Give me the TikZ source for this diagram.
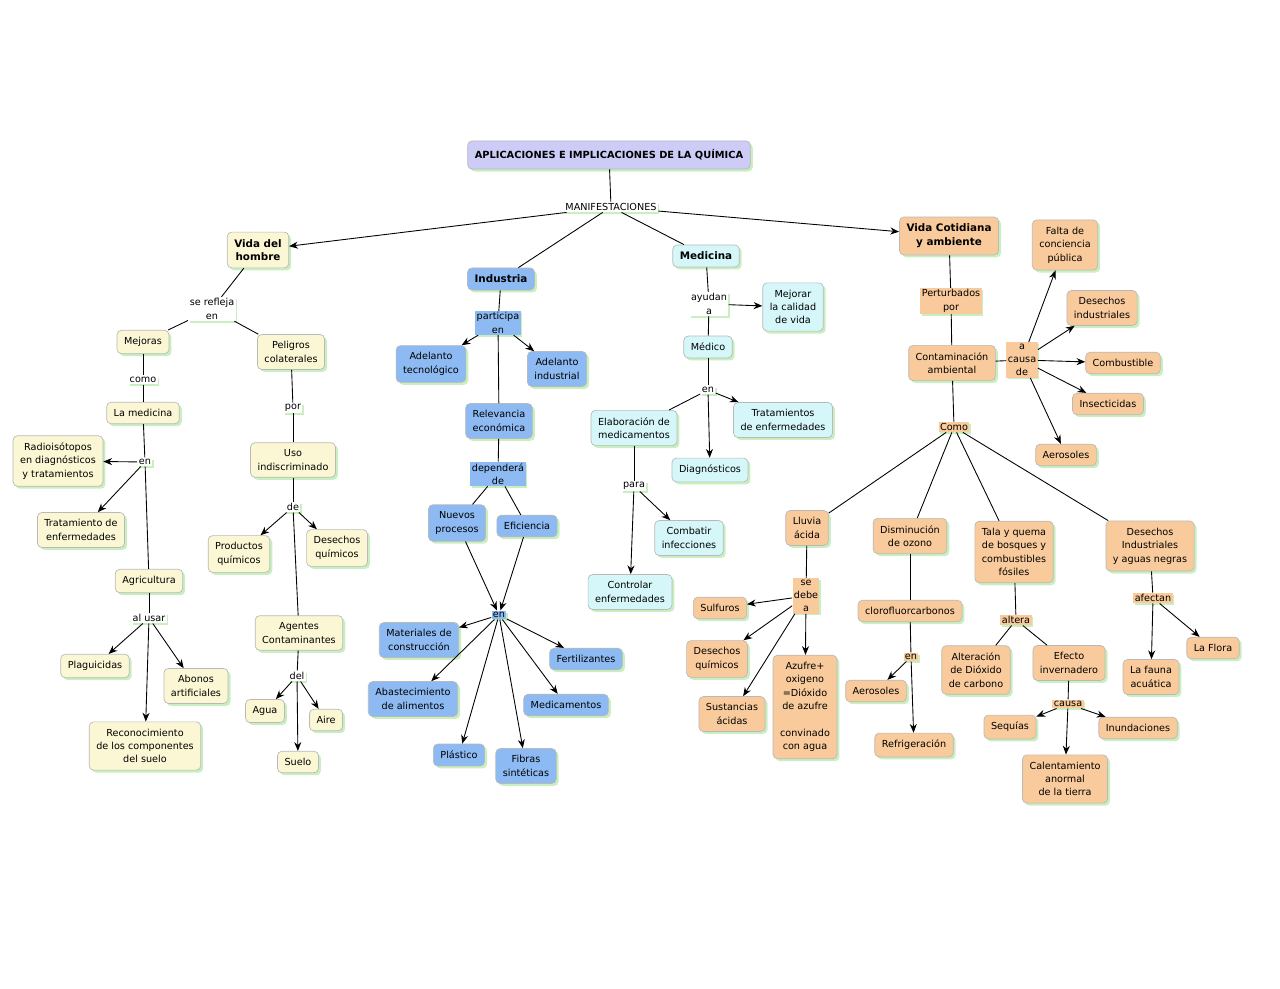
\documentclass[tikz,border=0pt]{standalone}
\usepackage{fontspec}
\setmainfont{DejaVu Sans}
\usetikzlibrary{shadows,arrows.meta}
\definecolor{cy}{HTML}{FBF7D4}
\definecolor{cb}{HTML}{8DBAF2}
\definecolor{cc}{HTML}{D6F7F9}
\definecolor{co}{HTML}{F9CB9C}
\definecolor{cp}{HTML}{CCCCF7}
\definecolor{sh}{HTML}{C9EFC0}
\begin{document}
\begin{tikzpicture}[x=0.02cm,y=-0.02cm,
  every node/.style={font=\fontsize{5.5}{7.6}\selectfont, align=center},
  box/.style={draw=gray!55, line width=0.4pt, rounded corners=2.5pt, inner xsep=4pt, inner ysep=4pt,
     drop shadow={shadow xshift=1.4pt, shadow yshift=-1.4pt, fill=sh, opacity=1}},
  Y/.style={box, fill=cy}, B/.style={box, fill=cb}, C/.style={box, fill=cc}, O/.style={box, fill=co},
  hd/.style={font=\fontsize{5.9}{7.8}\selectfont\bfseries},
  lab/.style={fill=white, inner sep=0.8pt, drop shadow={shadow xshift=0.8pt, shadow yshift=-1pt, fill=sh, opacity=1}},
  labB/.style={lab, fill=cb}, labO/.style={lab, fill=co},
  ln/.style={draw, line width=0.5pt},
  ar/.style={ln, -{Stealth[length=5pt,width=4pt]}}]
\useasboundingbox (0,0) rectangle (1280,989);
% top
\node[box, fill=cp, font=\fontsize{5.6}{8}\selectfont\bfseries, inner ysep=5pt] (title) at (609,155) {APLICACIONES E IMPLICACIONES DE LA QUÍMICA};
\node[lab] (manif) at (611,207) {MANIFESTACIONES};
\node[Y, hd] (vida) at (258,250) {Vida del\\hombre};
\node[B, hd] (indus) at (501,279) {Industria};
\node[C, hd] (medic) at (706,256) {Medicina};
\node[O, hd] (vidac) at (949,236) {Vida Cotidiana\\y ambiente};
\draw[ln] (title) -- (manif);
\draw[ar] (manif) -- (vida);
\draw[ar] (manif) -- (vidac);
\draw[ln] (manif) -- (indus);
\draw[ln] (manif) -- (medic);
% left branch
\node[lab] (refl) at (212,309) {se refleja\\en};
\node[Y] (mejoras) at (143,342) {Mejoras};
\node[Y] (peligros) at (291,352) {Peligros\\colaterales};
\node[lab] (como) at (143,380) {como};
\node[Y] (lamed) at (143,413) {La medicina};
\node[lab] (en1) at (145,462) {en};
\node[Y] (radio) at (58,461) {Radioisótopos\\en diagnósticos\\y tratamientos};
\node[Y] (trat) at (81,530) {Tratamiento de\\enfermedades};
\node[Y] (agri) at (149,581) {Agricultura};
\node[lab] (alusar) at (149,618) {al usar};
\node[Y] (plag) at (95,666) {Plaguicidas};
\node[Y] (abonos) at (196,686) {Abonos\\artificiales};
\node[Y] (recon) at (145,746) {Reconocimiento\\de los componentes\\del suelo};
\node[lab] (por1) at (293,408) {por};
\node[Y] (uso) at (293,460) {Uso\\indiscriminado};
\node[lab] (de1) at (293,507) {de};
\node[Y] (prod) at (239,554) {Productos\\químicos};
\node[Y] (desq) at (337,548) {Desechos\\químicos};
\node[Y] (agentes) at (299,633) {Agentes\\Contaminantes};
\node[lab] (del) at (297,676) {del};
\node[Y] (agua) at (265,711) {Agua};
\node[Y] (aire) at (326,720) {Aire};
\node[Y] (suelo) at (298,762) {Suelo};
\draw[ln] (vida) -- (refl); \draw[ln] (refl) -- (mejoras); \draw[ln] (refl) -- (peligros);
\draw[ln] (mejoras) -- (como); \draw[ln] (como) -- (lamed); \draw[ln] (lamed) -- (en1);
\draw[ar] (en1) -- (radio); \draw[ar] (en1) -- (trat); \draw[ln] (en1) -- (agri);
\draw[ln] (agri) -- (alusar); \draw[ar] (alusar) -- (plag); \draw[ar] (alusar) -- (abonos); \draw[ar] (alusar) -- (recon);
\draw[ln] (peligros) -- (por1); \draw[ln] (por1) -- (uso); \draw[ln] (uso) -- (de1);
\draw[ar] (de1) -- (prod); \draw[ar] (de1) -- (desq); \draw[ln] (de1) -- (agentes);
\draw[ln] (agentes) -- (del); \draw[ar] (del) -- (agua); \draw[ar] (del) -- (aire); \draw[ar] (del) -- (suelo);
% industry
\node[labB] (part) at (498,323) {participa\\en};
\node[B] (adelt) at (431,364) {Adelanto\\tecnológico};
\node[B] (adeli) at (557,369) {Adelanto\\industrial};
\node[B] (relev) at (499,421) {Relevancia\\económica};
\node[labB] (dep) at (498,474) {dependerá\\de};
\node[B] (nuevos) at (457,523) {Nuevos\\procesos};
\node[B] (efic) at (527,526) {Eficiencia};
\node[labB] (en2) at (499,615) {en};
\node[B] (mater) at (419,640) {Materiales de\\construcción};
\node[B] (fert) at (586,659) {Fertilizantes};
\node[B] (abast) at (413,699) {Abastecimiento\\de alimentos};
\node[B] (medica) at (566,705) {Medicamentos};
\node[B] (plast) at (459,755) {Plástico};
\node[B] (fibras) at (526,766) {Fibras\\sintéticas};
\draw[ln] (indus) -- (part); \draw[ar] (part) -- (adelt); \draw[ar] (part) -- (adeli); \draw[ln] (part) -- (relev);
\draw[ln] (relev) -- (dep); \draw[ln] (dep) -- (nuevos); \draw[ln] (dep) -- (efic);
\draw[ar] (nuevos) -- (en2); \draw[ar] (efic) -- (en2);
\draw[ar] (en2) -- (mater); \draw[ar] (en2) -- (fert); \draw[ar] (en2) -- (abast);
\draw[ar] (en2) -- (medica); \draw[ar] (en2) -- (plast); \draw[ar] (en2) -- (fibras);
% medicine
\node[lab] (ayud) at (709,304) {ayudan\\a};
\node[C] (mejorar) at (793,307) {Mejorar\\la calidad\\de vida};
\node[C] (medico) at (708,347) {Médico};
\node[lab] (en3) at (708,390) {en};
\node[C] (elab) at (634,428) {Elaboración de\\medicamentos};
\node[C] (tratenf) at (783,420) {Tratamientos\\de enfermedades};
\node[C] (diag) at (710,470) {Diagnósticos};
\node[lab] (para) at (634,486) {para};
\node[C] (combatir) at (689,538) {Combatir\\infecciones};
\node[C] (controlar) at (630,592) {Controlar\\enfermedades};
\draw[ln] (medic) -- (ayud); \draw[ar] (ayud) -- (mejorar); \draw[ln] (ayud) -- (medico);
\draw[ln] (medico) -- (en3); \draw[ln] (en3) -- (elab); \draw[ar] (en3) -- (tratenf); \draw[ar] (en3) -- (diag);
\draw[ln] (elab) -- (para); \draw[ar] (para) -- (combatir); \draw[ar] (para) -- (controlar);
% vida cotidiana
\node[labO] (pert) at (951,301) {Perturbados\\por};
\node[O] (contam) at (952,363) {Contaminación\\ambiental};
\node[labO] (acausa) at (1022,360) {a\\causa\\de};
\node[O] (falta) at (1065,245) {Falta de\\conciencia\\pública};
\node[O] (deshi) at (1102,308) {Desechos\\industriales};
\node[O] (comb) at (1123,363) {Combustible};
\node[O] (insect) at (1108,404) {Insecticidas};
\node[O] (aeros) at (1066,455) {Aerosoles};
\node[labO] (como2) at (954,427) {Como};
\node[O] (lluvia) at (807,528) {Lluvia\\ácida};
\node[O] (dism) at (910,536) {Disminución\\de ozono};
\node[O] (tala) at (1014,552) {Tala y quema\\de bosques y\\combustibles\\fósiles};
\node[O] (desind) at (1150,546) {Desechos\\Industriales\\y aguas negras};
\node[labO] (sedebe) at (806,596) {se\\debe\\a};
\node[O] (sulf) at (720,608) {Sulfuros};
\node[O] (desq2) at (717,659) {Desechos\\químicos};
\node[O] (sust) at (732,714) {Sustancias\\ácidas};
\node[O] (azufre) at (805,707) {Azufre+\\oxigeno\\=Dióxido\\de azufre\\[7.6pt]convinado\\con agua};
\node[O] (cloro) at (910,611) {clorofluorcarbonos};
\node[labO] (en4) at (911,657) {en};
\node[O] (aeros2) at (876,691) {Aerosoles};
\node[O] (refrig) at (914,745) {Refrigeración};
\node[labO] (altera) at (1016,620) {altera};
\node[O] (alter) at (976,670) {Alteración\\de Dióxido\\de carbono};
\node[O] (efecto) at (1069,663) {Efecto\\invernadero};
\node[labO] (causa) at (1068,704) {causa};
\node[O] (sequias) at (1010,727) {Sequías};
\node[O] (inund) at (1138,728) {Inundaciones};
\node[O] (calent) at (1065,779) {Calentamiento\\anormal\\de la tierra};
\node[labO] (afectan) at (1153,598) {afectan};
\node[O] (fauna) at (1151,677) {La fauna\\acuática};
\node[O] (flora) at (1213,648) {La Flora};
\draw[ln] (vidac) -- (pert); \draw[ln] (pert) -- (contam); \draw[ln] (contam) -- (acausa);
\draw[ar] (acausa) -- (falta); \draw[ar] (acausa) -- (deshi); \draw[ar] (acausa) -- (comb);
\draw[ar] (acausa) -- (insect); \draw[ar] (acausa) -- (aeros);
\draw[ln] (contam) -- (como2);
\draw[ln] (como2) -- (lluvia); \draw[ln] (como2) -- (dism); \draw[ln] (como2) -- (tala); \draw[ln] (como2) -- (desind);
\draw[ln] (lluvia) -- (sedebe); \draw[ar] (sedebe) -- (sulf); \draw[ar] (sedebe) -- (desq2);
\draw[ar] (sedebe) -- (sust); \draw[ar] (sedebe) -- (azufre);
\draw[ln] (dism) -- (cloro); \draw[ln] (cloro) -- (en4); \draw[ar] (en4) -- (aeros2); \draw[ar] (en4) -- (refrig);
\draw[ln] (tala) -- (altera); \draw[ln] (altera) -- (alter); \draw[ln] (altera) -- (efecto);
\draw[ln] (efecto) -- (causa); \draw[ar] (causa) -- (sequias); \draw[ar] (causa) -- (inund); \draw[ar] (causa) -- (calent);
\draw[ln] (desind) -- (afectan); \draw[ar] (afectan) -- (fauna); \draw[ar] (afectan) -- (flora);
\end{tikzpicture}
\end{document}
